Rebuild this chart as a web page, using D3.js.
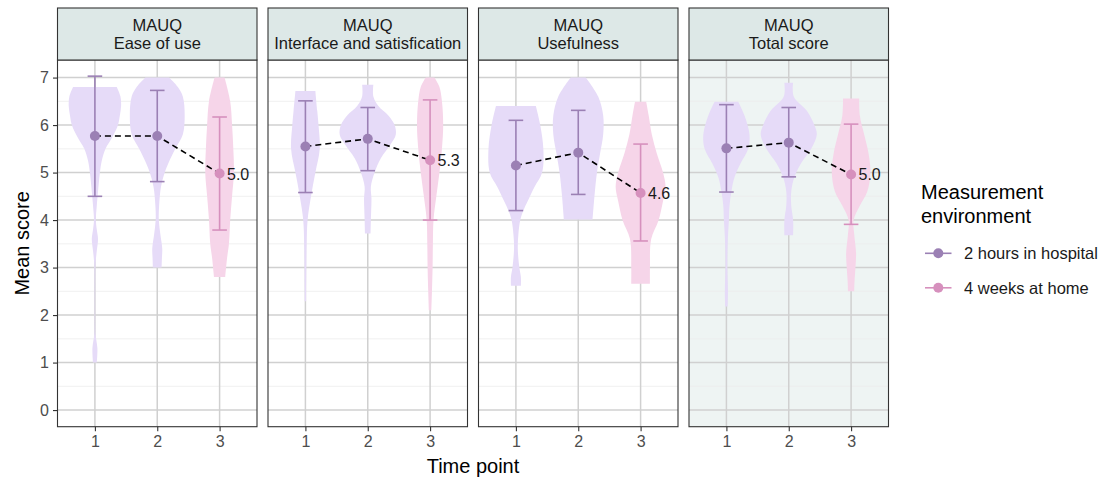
<!DOCTYPE html>
<html>
<head>
<meta charset="utf-8">
<script src="https://cdnjs.cloudflare.com/ajax/libs/d3/7.8.5/d3.min.js"></script>
<style>
  body { margin: 0; background: #fff; }
  svg { display: block; font-family: "Liberation Sans", Arial, sans-serif; }
</style>
</head>
<body>
<svg id="chart" width="1108" height="479"></svg>
<script>
/* MAUQ scores by time point — faceted violins with mean ± error bars */

const facets = ["Ease of use", "Interface and satisfication", "Usefulness", "Total score"];
const timePoints = ["1", "2", "3"];
const environments = ["2 hours in hospital", "4 weeks at home"];
const timeEnv = [0, 0, 1];          // environment index for each time point
const yTicks = [0, 1, 2, 3, 4, 5, 6, 7];

// mean, lower and upper end of the error bar, per facet × time point
const means  = [[5.77, 5.77, 4.98], [5.55, 5.71, 5.26], [5.15, 5.42, 4.57], [5.51, 5.63, 4.96]];
const lowers = [[4.50, 4.81, 3.79], [4.58, 5.04, 4.00], [4.20, 4.54, 3.56], [4.59, 4.91, 3.91]];
const uppers = [[7.03, 6.73, 6.17], [6.51, 6.37, 6.53], [6.10, 6.31, 5.60], [6.43, 6.37, 6.02]];

// violin outlines: [score, half width in category units], top to bottom
const violins = [
  [ // Ease of use
    [[6.8,.35],[6.6,.41],[6.4,.42],[6.2,.40],[6.0,.37],[5.75,.28],[5.5,.17],[5.25,.11],[5.0,.08],[4.6,.05],[4.3,.03],[4.0,.015],[3.8,.03],[3.6,.05],[3.35,.03],[3.1,.012],[2.6,.006],[2.0,.005],[1.6,.01],[1.3,.04],[1.0,.03]],
    [[7.0,.19],[6.8,.33],[6.6,.41],[6.2,.44],[5.8,.41],[5.5,.29],[5.2,.18],[5.0,.12],[4.7,.06],[4.3,.03],[4.0,.025],[3.7,.05],[3.4,.08],[3.2,.075],[3.0,.07]],
    [[7.0,.08],[6.5,.17],[6.0,.20],[5.5,.22],[5.0,.23],[4.5,.2],[4.0,.17],[3.5,.15],[3.2,.12],[2.8,.09]]
  ],
  [ // Interface and satisfication
    [[6.72,.16],[6.3,.19],[6.0,.21],[5.5,.23],[5.0,.16],[4.5,.09],[4.0,.035],[3.5,.02],[3.0,.015],[2.5,.012],[2.29,.012]],
    [[6.85,.09],[6.6,.09],[6.4,.17],[6.2,.33],[6.0,.43],[5.8,.45],[5.6,.37],[5.3,.21],[5.0,.11],[4.7,.05],[4.45,.06],[4.2,.055],[4.0,.05],[3.72,.045]],
    [[7.0,.07],[6.8,.15],[6.5,.19],[6.0,.21],[5.5,.19],[5.0,.15],[4.5,.10],[4.0,.055],[3.5,.045],[3.0,.04],[2.5,.03],[2.1,.02]]
  ],
  [ // Usefulness
    [[6.4,.32],[6.0,.39],[5.5,.44],[5.0,.42],[4.7,.30],[4.4,.19],[4.2,.12],[4.0,.07],[3.7,.04],[3.4,.03],[3.0,.055],[2.8,.08],[2.62,.08]],
    [[7.0,.12],[6.6,.32],[6.2,.40],[5.8,.40],[5.4,.35],[5.0,.30],[4.5,.26],[4.01,.23]],
    [[6.49,.09],[6.2,.13],[5.8,.18],[5.4,.26],[5.0,.36],[4.7,.40],[4.4,.36],[4.0,.29],[3.6,.17],[3.0,.15],[2.66,.15]]
  ],
  [ // Total score
    [[6.49,.19],[6.2,.29],[5.8,.37],[5.5,.35],[5.2,.23],[4.9,.13],[4.6,.08],[4.3,.05],[4.0,.04],[3.5,.02],[3.0,.015],[2.5,.025],[2.18,.02]],
    [[6.89,.07],[6.6,.08],[6.3,.29],[6.0,.41],[5.8,.45],[5.5,.36],[5.2,.20],[4.9,.09],[4.6,.04],[4.3,.04],[4.0,.07],[3.68,.07]],
    [[6.56,.13],[6.2,.14],[5.8,.21],[5.4,.28],[5.0,.31],[4.6,.26],[4.3,.14],[4.0,.04],[3.7,.05],[3.3,.08],[3.0,.07],[2.7,.055],[2.5,.05]]
  ]
];

const COL = {
  point: ["#9b80b4", "#d690bd"],
  fill:  ["#e6dbf8", "#f6d5e9"],
  strip: "#dde8e7",
  hiBg:  "#eef4f3",
  grid:  "#d0d0d0",
  minor: "#ececec",
  border:"#333333",
  text:  "#4d4d4d"
};

const PANEL = { x0: 57.5, w: 199.5, gap: 11, top: 60, bottom: 426.7, stripTop: 8 };

const svg = d3.select("#chart");

const y = d3.scaleLinear().domain([-0.35, 7.37]).range([PANEL.bottom, PANEL.top]);
const x = d3.scalePoint().domain(timePoints).range([0, PANEL.w]).padding(0.6);
const halfW = d3.scaleLinear().domain([0, 1]).range([0, x.step()]);

facets.forEach((name, fi) => {
  const px = PANEL.x0 + fi * (PANEL.w + PANEL.gap);
  const g = svg.append("g").attr("transform", `translate(${px},0)`);
  const ph = PANEL.bottom - PANEL.top;

  // panel background (total score highlighted)
  g.append("rect")
    .attr("x", 0).attr("y", PANEL.top).attr("width", PANEL.w).attr("height", ph)
    .attr("fill", fi === 3 ? COL.hiBg : "#fff");

  // minor grid
  g.selectAll(".minor").data(d3.range(0.5, 7.5, 1)).join("line")
    .attr("x1", 0).attr("x2", PANEL.w)
    .attr("y1", d => y(d)).attr("y2", d => y(d))
    .attr("stroke", COL.minor).attr("stroke-width", 0.8);

  // major grid
  g.selectAll(".hgrid").data(yTicks).join("line")
    .attr("x1", 0).attr("x2", PANEL.w)
    .attr("y1", d => y(d)).attr("y2", d => y(d))
    .attr("stroke", COL.grid).attr("stroke-width", 1.5);
  g.selectAll(".vgrid").data(timePoints).join("line")
    .attr("x1", d => x(d)).attr("x2", d => x(d))
    .attr("y1", PANEL.top).attr("y2", PANEL.bottom)
    .attr("stroke", COL.grid).attr("stroke-width", 1.5);

  // violins
  timePoints.forEach((t, ti) => {
    const cx = x(t);
    const area = d3.area()
      .y(d => y(d[0]))
      .x0(d => cx - halfW(d[1]))
      .x1(d => cx + halfW(d[1]))
      .curve(d3.curveCatmullRom.alpha(0.5));
    g.append("path")
      .attr("d", area(violins[fi][ti]))
      .attr("fill", COL.fill[timeEnv[ti]]);
  });

  // error bars
  const capW = 7.3;
  timePoints.forEach((t, ti) => {
    const cx = x(t), c = COL.point[timeEnv[ti]];
    const eb = g.append("g").attr("stroke", c).attr("stroke-width", 1.6).attr("fill", "none");
    eb.append("line").attr("x1", cx).attr("x2", cx).attr("y1", y(lowers[fi][ti])).attr("y2", y(uppers[fi][ti]));
    eb.append("line").attr("x1", cx - capW).attr("x2", cx + capW).attr("y1", y(lowers[fi][ti])).attr("y2", y(lowers[fi][ti]));
    eb.append("line").attr("x1", cx - capW).attr("x2", cx + capW).attr("y1", y(uppers[fi][ti])).attr("y2", y(uppers[fi][ti]));
  });

  // dashed mean line
  const line = d3.line().x((d, i) => x(timePoints[i])).y(d => y(d));
  g.append("path")
    .attr("d", line(means[fi]))
    .attr("fill", "none").attr("stroke", "#000")
    .attr("stroke-width", 1.6).attr("stroke-dasharray", "6,4");

  // mean points
  g.selectAll(".pt").data(means[fi]).join("circle")
    .attr("cx", (d, i) => x(timePoints[i])).attr("cy", d => y(d))
    .attr("r", 5)
    .attr("fill", (d, i) => COL.point[timeEnv[i]]);

  // label for the last time point
  const last = timePoints.length - 1;
  g.append("text")
    .attr("x", x(timePoints[last]) + 7.4).attr("y", y(means[fi][last]) + 6)
    .attr("font-size", 16).attr("fill", "#1a1a1a")
    .text(d3.format(".1f")(means[fi][last]));

  // border
  g.append("rect")
    .attr("x", 0).attr("y", PANEL.top).attr("width", PANEL.w).attr("height", ph)
    .attr("fill", "none").attr("stroke", COL.border).attr("stroke-width", 1.1);

  // strip
  g.append("rect")
    .attr("x", 0).attr("y", PANEL.stripTop).attr("width", PANEL.w).attr("height", PANEL.top - PANEL.stripTop)
    .attr("fill", COL.strip).attr("stroke", COL.border).attr("stroke-width", 1.1);
  const st = g.append("text").attr("text-anchor", "middle").attr("font-size", 16.5).attr("fill", "#1a1a1a");
  st.append("tspan").attr("x", PANEL.w / 2).attr("y", 30.7).text("MAUQ");
  st.append("tspan").attr("x", PANEL.w / 2).attr("y", 49.3).text(name);

  // x axis
  const xa = g.append("g")
    .attr("transform", `translate(0,${PANEL.bottom})`)
    .call(d3.axisBottom(x).tickSize(4.5).tickPadding(4));
  xa.select(".domain").remove();
  xa.selectAll("line").attr("stroke", COL.border).attr("stroke-width", 1.1);
  xa.selectAll("text").attr("font-size", 16).attr("fill", COL.text).attr("font-family", null);
});

// y axis (first panel only)
const ya = svg.append("g")
  .attr("transform", `translate(${PANEL.x0},0)`)
  .call(d3.axisLeft(y).tickValues(yTicks).tickSize(4.5).tickPadding(4));
ya.select(".domain").remove();
ya.selectAll("line").attr("stroke", COL.border).attr("stroke-width", 1.1);
ya.selectAll("text").attr("font-size", 16).attr("fill", COL.text).attr("font-family", null);

// axis titles
const plotMidX = PANEL.x0 + (4 * PANEL.w + 3 * PANEL.gap) / 2;
svg.append("text")
  .attr("x", plotMidX).attr("y", 473)
  .attr("text-anchor", "middle").attr("font-size", 20).attr("fill", "#000")
  .text("Time point");
svg.append("text")
  .attr("transform", `translate(29,${(PANEL.top + PANEL.bottom) / 2}) rotate(-90)`)
  .attr("text-anchor", "middle").attr("font-size", 20).attr("fill", "#000")
  .text("Mean score");

// legend
const lg = svg.append("g").attr("transform", "translate(921,0)");
const lt = lg.append("text").attr("font-size", 20).attr("fill", "#000");
lt.append("tspan").attr("x", 0).attr("y", 199).text("Measurement");
lt.append("tspan").attr("x", 0).attr("y", 223).text("environment");

const items = lg.selectAll(".item").data(environments).join("g")
  .attr("transform", (d, i) => `translate(0,${253.3 + i * 34.5})`);
items.append("line")
  .attr("x1", 4).attr("x2", 30.5).attr("y1", 0).attr("y2", 0)
  .attr("stroke", (d, i) => COL.point[i]).attr("stroke-width", 1.6);
items.append("circle")
  .attr("cx", 17.3).attr("cy", 0).attr("r", 5)
  .attr("fill", (d, i) => COL.point[i]);
items.append("text")
  .attr("x", 43).attr("y", 6)
  .attr("font-size", 16.5).attr("fill", "#1a1a1a")
  .text(d => d);
</script>
</body>
</html>
